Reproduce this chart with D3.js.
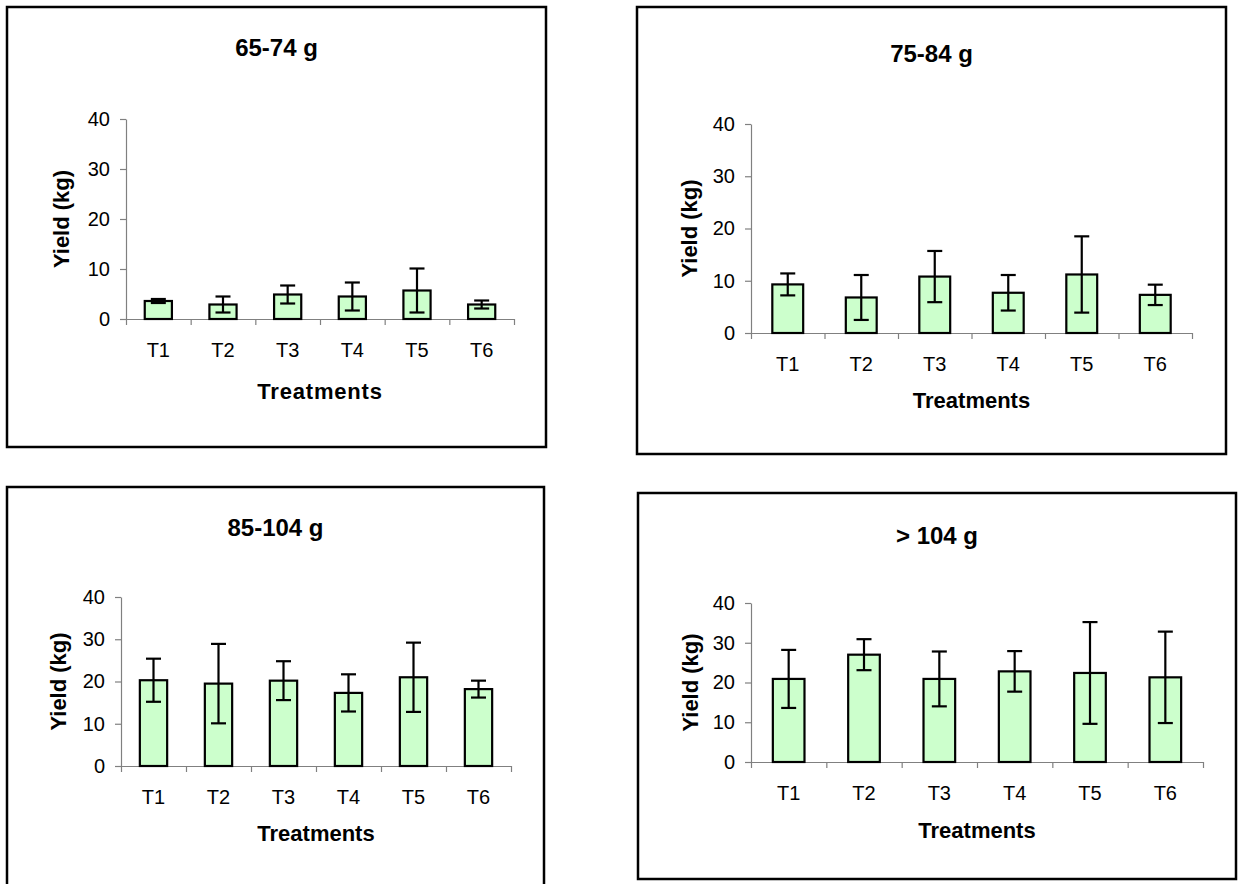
<!DOCTYPE html>
<html lang="en">
<head>
    <meta charset="UTF-8">
    <title>Yield by treatment and fruit size</title>
    <script src="https://d3js.org/d3.v7.min.js"></script>
    <style>
        body {
            margin: 0;
            background: #fff;
            font-family: "Liberation Sans", Arial, sans-serif;
        }
        .tick text {
            font-family: "Liberation Sans", Arial, sans-serif;
            fill: #000;
        }
    </style>
</head>
<body>
    <div id="chart"></div>

    <script>
        // data
        const categories = ["T1", "T2", "T3", "T4", "T5", "T6"];
        const panelTitles = ["65-74 g", "75-84 g", "85-104 g", "> 104 g"];
        const yTicks = [0, 10, 20, 30, 40];

        const means65 = [3.6, 2.9, 4.9, 4.5, 5.7, 2.9];
        const errs65 = [0.4, 1.6, 1.8, 2.8, 4.4, 0.8];
        const means75 = [9.3, 6.8, 10.8, 7.7, 11.2, 7.3];
        const errs75 = [2.1, 4.3, 4.9, 3.4, 7.3, 1.95];
        const means85 = [20.3, 19.5, 20.2, 17.3, 21.0, 18.2];
        const errs85 = [5.1, 9.4, 4.6, 4.4, 8.2, 2.0];
        const means104 = [20.9, 27.0, 20.9, 22.8, 22.4, 21.3];
        const errs104 = [7.3, 3.9, 6.9, 5.1, 12.8, 11.5];

        const width = 1241;
        const height = 884;

        // layout of each framed chart (pixels)
        const panels = [
            { title: panelTitles[0], means: means65, errs: errs65,
              frame: [7, 7, 546, 447], x0: 126, x1: 514, yTop: 119, yBottom: 319,
              titleY: 56, labelY: 357, xTitleY: 399, yTitleX: 69, spacing: 0.8 },
            { title: panelTitles[1], means: means75, errs: errs75,
              frame: [637, 7, 1226, 454], x0: 751, x1: 1192, yTop: 124, yBottom: 333,
              titleY: 62, labelY: 371, xTitleY: 408, yTitleX: 697, spacing: 0 },
            { title: panelTitles[2], means: means85, errs: errs85,
              frame: [7, 487, 544, 900], x0: 121, x1: 511, yTop: 597, yBottom: 766,
              titleY: 536, labelY: 804, xTitleY: 841, yTitleX: 66, spacing: 0 },
            { title: panelTitles[3], means: means104, errs: errs104,
              frame: [638, 493, 1236, 879], x0: 751, x1: 1203, yTop: 603, yBottom: 762,
              titleY: 544, labelY: 800, xTitleY: 838, yTitleX: 698, spacing: 0 }
        ];

        const svg = d3.select("#chart")
            .append("svg")
            .attr("width", width)
            .attr("height", height);

        panels.forEach(p => {
            const g = svg.append("g");

            // frame
            g.append("rect")
                .attr("x", p.frame[0])
                .attr("y", p.frame[1])
                .attr("width", p.frame[2] - p.frame[0])
                .attr("height", p.frame[3] - p.frame[1])
                .attr("fill", "none")
                .attr("stroke", "#000")
                .attr("stroke-width", 2.5);

            const x = d3.scaleBand()
                .domain(categories)
                .range([p.x0, p.x1])
                .paddingInner(0.58)
                .paddingOuter(0.29);

            const y = d3.scaleLinear()
                .domain([0, 40])
                .range([p.yBottom, p.yTop]);

            // y axis
            const yAxis = g.append("g")
                .attr("transform", `translate(${p.x0},0)`)
                .call(d3.axisLeft(y).tickValues(yTicks).tickSize(6).tickSizeOuter(0).tickPadding(10));
            yAxis.selectAll("path, line").attr("stroke", "#808080").attr("stroke-width", 1.2);
            yAxis.selectAll("text").attr("font-size", 20);

            // x axis with ticks between categories
            const xb = d3.scaleLinear().domain([0, categories.length]).range([p.x0, p.x1]);
            const xAxis = g.append("g")
                .attr("transform", `translate(0,${p.yBottom})`)
                .call(d3.axisBottom(xb).ticks(categories.length).tickFormat("").tickSize(6).tickSizeOuter(0));
            xAxis.selectAll("path, line").attr("stroke", "#808080").attr("stroke-width", 1.2);

            // category labels
            g.selectAll(".cat")
                .data(categories)
                .join("text")
                .attr("x", d => x(d) + x.bandwidth() / 2)
                .attr("y", p.labelY)
                .attr("text-anchor", "middle")
                .attr("font-size", 20)
                .text(d => d);

            const rows = categories.map((c, i) => ({ c, m: p.means[i], e: p.errs[i] }));

            // bars
            g.selectAll(".bar")
                .data(rows)
                .join("rect")
                .attr("x", d => x(d.c))
                .attr("y", d => y(d.m))
                .attr("width", x.bandwidth())
                .attr("height", d => y(0) - y(d.m))
                .attr("fill", "#ccffcc")
                .attr("stroke", "#000")
                .attr("stroke-width", 2.2);

            // error bars
            const cap = 7.5;
            const eb = g.selectAll(".err")
                .data(rows)
                .join("g")
                .attr("stroke", "#000")
                .attr("stroke-width", 2.2);
            eb.append("line")
                .attr("x1", d => x(d.c) + x.bandwidth() / 2)
                .attr("x2", d => x(d.c) + x.bandwidth() / 2)
                .attr("y1", d => y(d.m + d.e))
                .attr("y2", d => y(d.m - d.e));
            eb.append("line")
                .attr("x1", d => x(d.c) + x.bandwidth() / 2 - cap)
                .attr("x2", d => x(d.c) + x.bandwidth() / 2 + cap)
                .attr("y1", d => y(d.m + d.e))
                .attr("y2", d => y(d.m + d.e));
            eb.append("line")
                .attr("x1", d => x(d.c) + x.bandwidth() / 2 - cap)
                .attr("x2", d => x(d.c) + x.bandwidth() / 2 + cap)
                .attr("y1", d => y(d.m - d.e))
                .attr("y2", d => y(d.m - d.e));

            // titles
            g.append("text")
                .attr("x", (p.frame[0] + p.frame[2]) / 2)
                .attr("y", p.titleY)
                .attr("text-anchor", "middle")
                .attr("font-size", 24)
                .attr("font-weight", "bold")
                .text(p.title);

            g.append("text")
                .attr("x", (p.x0 + p.x1) / 2)
                .attr("y", p.xTitleY)
                .attr("text-anchor", "middle")
                .attr("font-size", 22)
                .attr("font-weight", "bold")
                .attr("letter-spacing", p.spacing)
                .text("Treatments");

            g.append("text")
                .attr("transform", `translate(${p.yTitleX},${(p.yTop + p.yBottom) / 2}) rotate(-90)`)
                .attr("text-anchor", "middle")
                .attr("font-size", 22)
                .attr("font-weight", "bold")
                .text("Yield (kg)");
        });
    </script>
</body>
</html>
